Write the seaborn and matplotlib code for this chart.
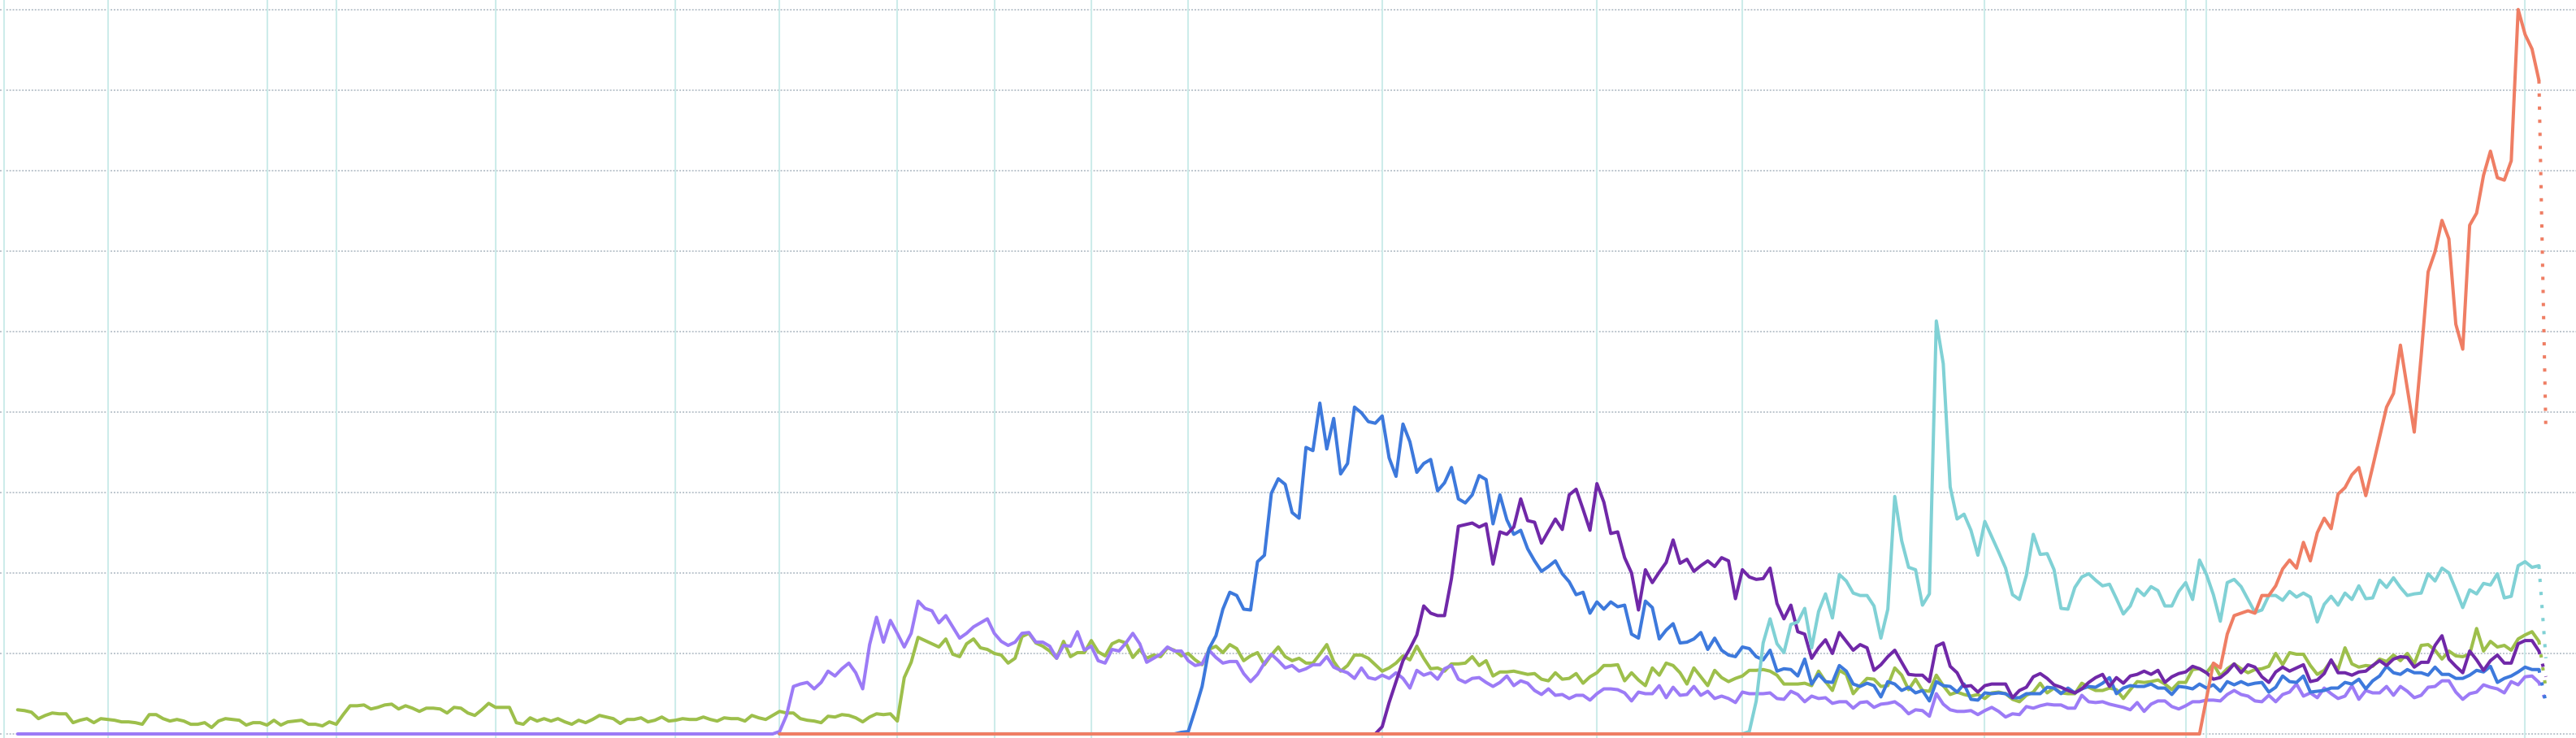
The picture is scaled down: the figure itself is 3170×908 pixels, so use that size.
import numpy as np
import pandas as pd
import matplotlib
matplotlib.use("Agg")
import matplotlib.pyplot as plt
import seaborn as sns

N = 366  # weekly points, the last one is partial (dotted)

green = [
    3.0, 2.9, 2.7, 1.9, 2.3, 2.6, 2.5, 2.5, 1.4, 1.7,
    1.9, 1.4, 1.9, 1.8, 1.7, 1.5, 1.5, 1.4, 1.2, 2.4,
    2.4, 1.9, 1.6, 1.8, 1.6, 1.2, 1.2, 1.4, 0.8, 1.6,
    1.9, 1.8, 1.7, 1.1, 1.4, 1.4, 1.1, 1.7, 1.1, 1.5,
    1.6, 1.7, 1.2, 1.2, 1.0, 1.5, 1.2, 2.4, 3.5, 3.5,
    3.6, 3.1, 3.3, 3.6, 3.7, 3.1, 3.5, 3.2, 2.8, 3.2,
    3.2, 3.1, 2.6, 3.3, 3.2, 2.6, 2.3, 3.0, 3.8, 3.3,
    3.3, 3.3, 1.4, 1.2, 2.0, 1.6, 1.9, 1.6, 1.9, 1.5,
    1.2, 1.7, 1.4, 1.8, 2.3, 2.1, 1.9, 1.3, 1.8, 1.8,
    2.0, 1.5, 1.7, 2.1, 1.6, 1.7, 1.9, 1.8, 1.8, 2.1,
    1.8, 1.6, 2.0, 1.9, 1.9, 1.6, 2.3, 2.0, 1.8, 2.3,
    2.8, 2.6, 2.6, 1.9, 1.7, 1.6, 1.4, 2.2, 2.1, 2.4,
    2.3, 2.0, 1.5, 2.1, 2.5, 2.4, 2.5, 1.6, 7.0, 8.9,
    12.0, 11.6, 11.2, 10.8, 11.8, 9.9, 9.6, 11.2, 11.8, 10.7,
    10.5, 10.0, 9.8, 8.8, 9.4, 12.1, 12.5, 11.3, 10.9, 10.3,
    9.4, 11.5, 9.6, 10.1, 10.1, 11.6, 10.2, 9.7, 11.2, 11.6,
    11.3, 9.5, 10.5, 9.4, 9.8, 9.6, 10.7, 10.4, 9.7, 10.0,
    9.2, 8.6, 10.5, 10.9, 10.1, 11.1, 10.6, 9.1, 9.7, 10.1,
    8.6, 9.8, 10.8, 9.6, 9.1, 9.4, 8.8, 8.8, 9.9, 11.1,
    9.0, 7.8, 8.5, 9.8, 9.8, 9.4, 8.6, 7.8, 8.2, 8.8,
    9.7, 9.2, 10.9, 9.4, 8.1, 8.2, 7.8, 8.7, 8.7, 8.8,
    9.6, 8.5, 9.1, 7.2, 7.7, 7.7, 7.8, 7.6, 7.4, 7.5,
    6.8, 6.6, 7.6, 6.8, 6.9, 7.5, 6.3, 7.1, 7.6, 8.5,
    8.5, 8.6, 6.6, 7.6, 6.7, 6.0, 8.2, 7.3, 8.8, 8.5,
    7.6, 6.2, 8.2, 7.1, 6.0, 7.9, 7.0, 6.5, 6.9, 7.2,
    7.9, 7.9, 8.0, 7.8, 7.3, 6.2, 6.2, 6.2, 6.3, 6.0,
    7.8, 6.5, 5.4, 7.9, 7.4, 5.0, 6.0, 6.9, 6.8, 5.9,
    6.0, 8.2, 7.3, 5.5, 6.8, 5.4, 5.3, 7.3, 6.0, 4.9,
    5.2, 4.9, 4.7, 4.9, 4.4, 5.1, 5.2, 5.0, 4.3, 4.0,
    4.8, 5.2, 6.3, 5.1, 5.7, 5.1, 5.0, 5.0, 6.3, 5.8,
    5.4, 5.4, 5.7, 5.5, 4.4, 5.5, 6.5, 6.4, 6.5, 6.7,
    6.2, 5.5, 6.4, 6.4, 8.0, 8.1, 7.6, 8.7, 7.2, 8.1,
    8.7, 8.1, 7.6, 8.0, 8.1, 8.4, 10.0, 8.6, 10.1, 9.9,
    9.9, 8.5, 7.4, 7.9, 9.1, 8.0, 10.7, 8.7, 8.3, 8.5,
    8.4, 9.3, 9.0, 9.8, 9.1, 10.0, 8.7, 11.0, 11.1, 10.4,
    9.3, 10.3, 9.7, 9.6, 9.9, 13.1, 10.3, 11.5, 10.8, 11.0,
    10.4, 11.8, 12.3, 12.7, 11.5, 5.6,
]

lavender = [0.0] * 110 + [
    0.3, 2.3, 5.9, 6.2, 6.4, 5.6, 6.4, 7.8, 7.2, 8.1,
    8.8, 7.6, 5.6, 11.1, 14.5, 11.4, 14.1, 12.5, 10.8, 12.5,
    16.5, 15.6, 15.3, 13.8, 14.7, 13.3, 11.9, 12.5, 13.3, 13.8,
    14.3, 12.5, 11.5, 11.0, 11.4, 12.5, 12.6, 11.4, 11.4, 10.9,
    9.4, 11.0, 10.9, 12.7, 10.4, 10.9, 9.1, 8.8, 10.5, 10.3,
    11.3, 12.5, 11.2, 8.9, 9.4, 9.9, 10.8, 10.3, 10.3, 9.1,
    8.5, 8.7, 10.4, 9.5, 8.8, 9.0, 9.0, 7.5, 6.5, 7.4,
    8.8, 9.9, 9.1, 8.2, 8.5, 7.8, 8.1, 8.6, 8.6, 9.6,
    8.3, 7.9, 7.6, 6.9, 8.2, 7.0, 6.8, 7.3, 6.9, 7.6,
    6.9, 5.7, 7.9, 7.3, 7.6, 6.8, 8.1, 8.5, 6.8, 6.4,
    6.9, 7.0, 6.4, 5.9, 6.4, 7.2, 6.0, 6.6, 6.3, 5.4,
    4.9, 5.6, 4.8, 4.9, 4.4, 4.8, 4.8, 4.2, 5.0, 5.6,
    5.6, 5.5, 5.1, 4.1, 5.2, 5.0, 5.0, 6.0, 4.5, 5.8,
    4.8, 4.9, 5.9, 4.8, 5.3, 4.4, 4.7, 4.4, 3.9, 5.2,
    5.0, 5.0, 5.0, 5.1, 4.4, 4.3, 5.3, 4.9, 4.0, 4.7,
    4.4, 4.5, 3.8, 4.0, 4.0, 3.2, 3.9, 4.0, 3.3, 3.7,
    3.8, 4.0, 3.4, 2.5, 3.0, 2.9, 2.2, 5.0, 3.7, 3.0,
    2.8, 2.8, 2.9, 2.4, 2.9, 3.3, 2.8, 2.1, 2.5, 2.4,
    3.4, 3.2, 3.5, 3.7, 3.6, 3.6, 3.2, 3.2, 4.8, 4.0,
    3.9, 4.0, 3.7, 3.5, 3.3, 3.0, 3.9, 2.8, 3.7, 4.1,
    4.1, 3.4, 3.1, 3.5, 4.0, 4.0, 4.2, 4.2, 4.1, 4.9,
    5.4, 4.9, 4.7, 4.1, 4.0, 4.8, 4.0, 4.9, 5.2, 6.2,
    4.7, 5.1, 4.5, 5.7, 5.0, 4.4, 4.7, 6.0, 4.3, 5.4,
    5.1, 5.1, 5.9, 4.8, 5.9, 5.3, 4.5, 4.8, 5.8, 5.9,
    6.6, 6.6, 5.2, 4.3, 5.0, 5.2, 6.1, 5.8, 5.6, 5.1,
    6.5, 6.1, 7.1, 7.2, 6.4, 4.0,
]

blue = [0.0] * 58 + [
    0.2, 0.3, 3.0, 5.9, 10.6, 12.2, 15.5, 17.6, 17.2, 15.5, 15.4, 21.4,
    22.2, 29.9, 31.7, 31.0, 27.5, 26.8, 35.6, 35.2, 41.1, 35.4,
    39.2, 32.3, 33.6, 40.6, 39.9, 38.8, 38.6, 39.5, 34.3, 32.0,
    38.5, 36.3, 32.5, 33.6, 34.1, 30.2, 31.2, 33.1, 29.2, 28.7,
    29.7, 32.1, 31.6, 26.1, 29.7, 26.6, 24.8, 25.3, 23.0, 21.5,
    20.2, 20.8, 21.5, 19.9, 18.9, 17.3, 17.6, 15.0, 16.4, 15.5,
    16.4, 15.8, 16.0, 12.4, 11.9, 16.5, 15.7, 11.8, 12.9, 13.7,
    11.3, 11.4, 11.8, 12.6, 10.5, 11.9, 10.4, 9.8, 9.6, 10.8,
    10.6, 9.6, 9.2, 10.4, 7.8, 8.1, 8.0, 7.2, 9.3, 6.2,
    7.4, 6.5, 6.4, 8.5, 7.8, 6.2, 5.9, 6.3, 6.0, 4.6,
    6.5, 6.2, 5.4, 5.8, 5.1, 5.4, 4.1, 6.5, 6.0, 5.9,
    5.2, 6.2, 4.3, 4.2, 5.1, 5.0, 5.1, 5.0, 4.5, 4.5,
    5.0, 5.0, 5.0, 5.8, 5.7, 5.0, 5.7, 5.1, 5.6, 5.9,
    5.8, 6.3, 7.0, 5.0, 5.7, 6.0, 5.9, 5.9, 6.2, 5.7,
    5.7, 4.9, 5.9, 5.8, 5.6, 6.2, 5.7, 6.1, 5.3, 6.5,
    6.1, 6.5, 6.1, 6.3, 6.4, 5.2, 5.8, 7.2, 6.5, 6.4,
    7.2, 5.2, 5.3, 5.4, 5.7, 5.7, 6.4, 6.2, 6.8, 5.6,
    6.6, 7.2, 8.4, 7.6, 7.4, 8.0, 7.6, 7.6, 7.3, 8.3,
    7.4, 7.4, 6.9, 6.9, 7.3, 7.9, 7.7, 8.4, 6.4, 6.9,
    7.2, 7.7, 8.3, 8.0, 8.0, 3.9,
]

violet = [0.0] * 87 + [
    0.9, 3.9, 6.5,
    9.1, 10.6, 12.3, 15.9, 15.0, 14.7, 14.7, 19.3, 25.8, 26.0,
    26.2, 25.7, 26.1, 21.1, 25.1, 24.8, 25.7, 29.2, 26.5, 26.3,
    23.7, 25.2, 26.7, 25.4, 29.7, 30.4, 27.9, 25.3, 31.1, 28.8,
    24.9, 25.1, 21.9, 20.0, 15.4, 20.4, 18.8, 20.1, 21.3, 24.1,
    21.2, 21.7, 20.2, 20.9, 21.5, 20.8, 21.9, 21.5, 16.8, 20.4,
    19.5, 19.2, 19.3, 20.6, 16.2, 14.3, 16.0, 12.7, 12.4, 9.4,
    10.7, 11.7, 10.0, 12.6, 11.5, 10.4, 11.1, 10.7, 7.9, 8.6,
    9.6, 10.4, 8.9, 7.4, 7.3, 7.3, 6.5, 10.9, 11.3, 8.4,
    7.6, 5.9, 6.0, 5.2, 6.0, 6.2, 6.2, 6.2, 4.5, 5.4,
    5.8, 7.1, 7.5, 6.9, 6.1, 5.8, 5.4, 5.1, 5.6, 6.4,
    7.0, 7.4, 5.9, 7.0, 6.3, 7.2, 7.4, 7.8, 7.4, 7.9,
    6.4, 7.1, 7.5, 7.7, 8.4, 8.1, 7.6, 6.8, 7.0, 7.7,
    8.7, 7.6, 8.6, 8.3, 7.1, 6.4, 7.7, 8.3, 7.8, 8.2,
    8.6, 6.5, 6.7, 7.5, 9.2, 7.6, 7.6, 7.3, 7.7, 7.8,
    8.5, 9.1, 8.5, 9.3, 9.6, 9.5, 8.3, 8.9, 8.9, 11.0,
    12.2, 9.3, 8.4, 7.6, 10.3, 9.2, 7.9, 9.1, 9.8, 8.8,
    8.8, 11.2, 11.6, 11.6, 10.3, 7.1,
]

cyan = [0.0] * 140 + [
    0.3, 4.1, 11.3, 14.3, 11.2, 10.1, 13.6, 13.9, 15.6, 10.7,
    15.2, 17.4, 14.4, 19.8, 19.0, 17.5, 17.2, 17.2, 15.9, 11.9,
    15.5, 29.5, 24.0, 20.7, 20.4, 16.0, 17.4, 51.3, 46.0, 30.7,
    26.7, 27.3, 25.3, 22.2, 26.4, 24.5, 22.6, 20.6, 17.3, 16.7,
    19.7, 24.8, 22.3, 22.4, 20.4, 15.6, 15.5, 18.2, 19.5, 19.9,
    19.1, 18.4, 18.6, 16.8, 14.9, 15.9, 18.0, 17.2, 18.3, 17.8,
    15.9, 15.9, 17.7, 18.8, 16.7, 21.6, 19.8, 17.3, 14.0, 18.8,
    19.2, 18.3, 16.7, 15.1, 15.4, 17.2, 17.2, 16.6, 17.7, 17.0,
    17.5, 17.0, 13.9, 16.1, 17.1, 16.0, 17.5, 16.7, 18.4, 16.8,
    16.9, 19.1, 18.2, 19.4, 18.2, 17.2, 17.4, 17.5, 19.9, 19.0,
    20.6, 20.0, 17.9, 15.7, 17.9, 17.4, 18.7, 18.5, 19.9, 16.9,
    17.1, 20.9, 21.4, 20.7, 20.9, 9.4,
]

orange = [0.0] * 206 + [
    4.4, 8.8, 8.2, 12.4,
    14.7, 15.0, 15.3, 15.0, 17.2, 17.2, 18.4, 20.5, 21.6, 20.6,
    23.8, 21.5, 25.0, 26.8, 25.5, 29.8, 30.6, 32.2, 33.1, 29.6,
    33.2, 36.9, 40.6, 42.3, 48.3, 42.9, 37.5, 47.0, 57.4, 59.9,
    63.8, 61.5, 50.9, 47.8, 63.2, 64.7, 69.4, 72.4, 69.1, 68.8,
    71.2, 90.0, 86.9, 85.1, 81.2, 37.7,
]

# weeks marked by the light vertical lines
events = [-2, 13, 36, 46, 69, 95, 110, 127, 141, 155, 169, 197,
          228, 249, 284, 313, 316, 362]

names = ["green", "lavender", "blue", "violet", "cyan", "orange"]
palette = {
    "green": "#9dbf4b",
    "lavender": "#9c7bf6",
    "blue": "#3d79dc",
    "violet": "#7028a8",
    "cyan": "#80d1d5",
    "orange": "#ef7e64",
}


def pad(vals):
    return [np.nan] * (N - len(vals)) + list(vals)


df = pd.DataFrame({"week": np.arange(N)})
for name, vals in zip(names, [green, lavender, blue, violet, cyan, orange]):
    df[name] = pad(vals)

long = df.melt(id_vars="week", var_name="series", value_name="value").dropna()
solid = long[long["week"] <= N - 2]
tail = long[long["week"] >= N - 2]

sns.set_style("white")
fig = plt.figure(figsize=(31.7, 9.08), dpi=100)
ax = fig.add_axes([0, 0, 1, 1])

for y in range(0, 91, 10):
    ax.axhline(y, color="#bcc5cd", lw=1.4, ls=(0, (1, 1)), zorder=0)
for e in events:
    ax.axvline(e, color="#cdecea", lw=1.5, zorder=0.5)

sns.lineplot(data=solid, x="week", y="value", hue="series", hue_order=names,
             palette=palette, estimator=None, errorbar=None, legend=False,
             lw=2.9, ax=ax)
sns.lineplot(data=tail, x="week", y="value", hue="series", hue_order=names,
             palette=palette, estimator=None, errorbar=None, legend=False,
             lw=2.9, linestyle=(0, (1, 3)), ax=ax)

ax.set_xlim(-2.546, 369.35)
ax.set_ylim(-0.505, 91.18)
ax.axis("off")

fig.savefig("out.png", dpi=100)
